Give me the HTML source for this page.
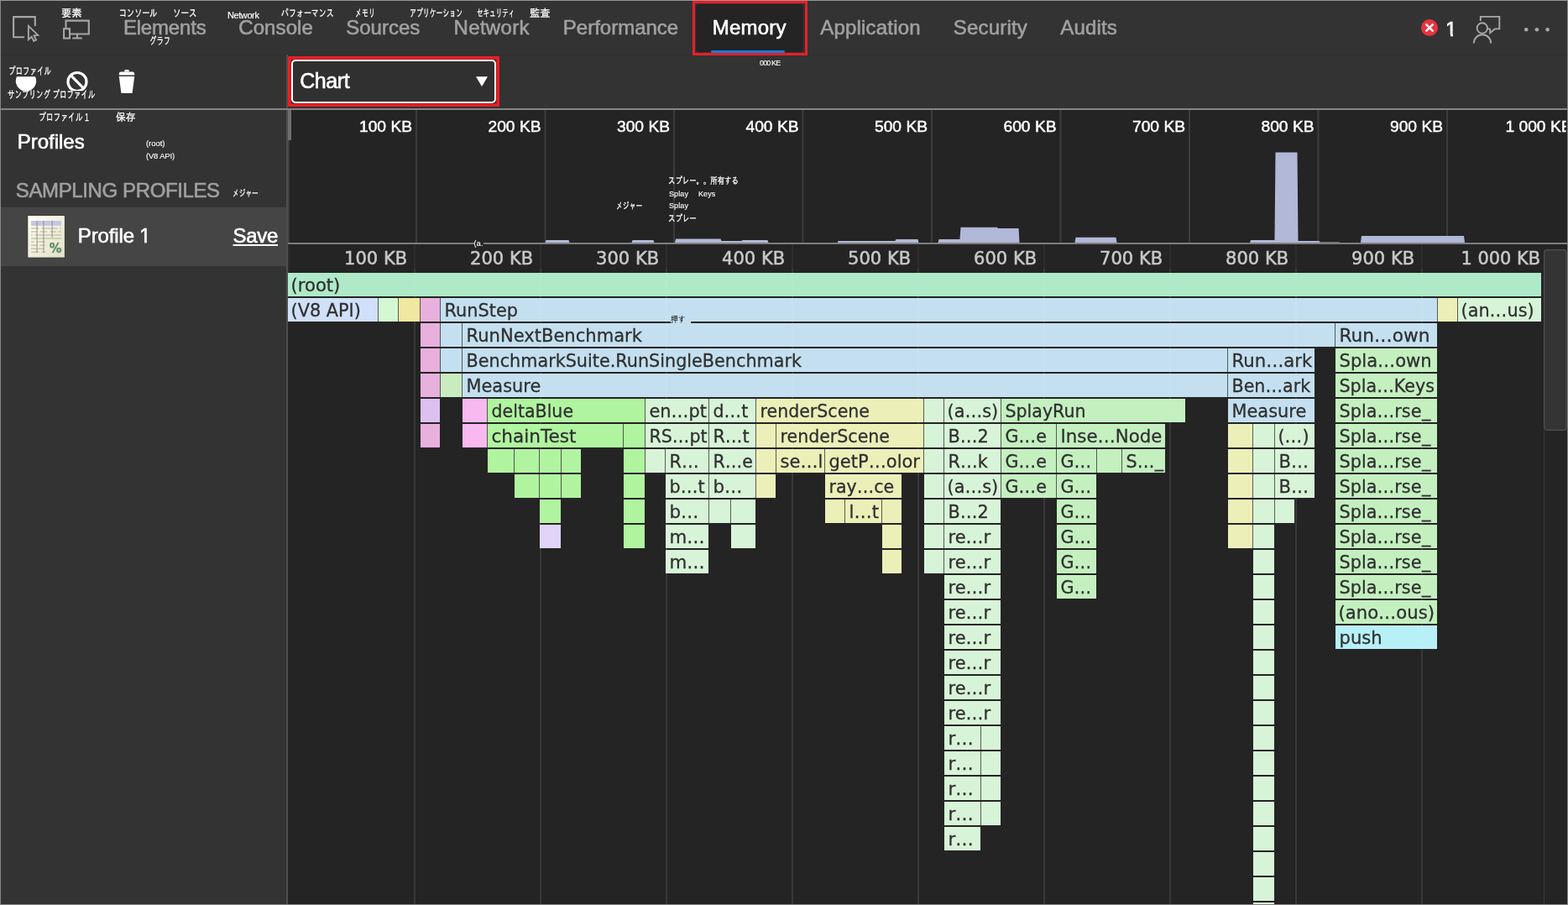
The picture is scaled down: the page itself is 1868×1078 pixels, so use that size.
<!DOCTYPE html>
<html lang="en">
<head>
<meta charset="utf-8">
<title>DevTools - Memory - Sampling profile chart</title>
<style>
*{box-sizing:border-box}
html,body{margin:0;padding:0;width:1868px;height:1078px;overflow:hidden;background:#333}
body{position:relative;font-family:"Liberation Sans","Noto Sans CJK JP",sans-serif;-webkit-font-smoothing:antialiased}
.abs,.t,svg{position:absolute}
nav,header,aside,main{display:block;position:static;margin:0;padding:0}
.t{white-space:pre;display:block;-webkit-text-stroke:.6px currentColor}
#tabs{left:1px;top:1px;width:1866px;height:64px;background:#333}
#tools{left:1px;top:65px;width:1866px;height:64px;background:#333}
#tabline{left:1px;top:65px;width:1866px;height:1px;background:#2f2f2f}
#hr{left:1px;top:129px;width:1866px;height:2px;background:#858585}
#side{left:1px;top:131px;width:340px;height:946px;background:#333}
#split{left:341px;top:65px;width:2px;height:1012px;background:#4e4e4e}
#chart{left:343px;top:131px;width:1524px;height:946px;background:#242424}
#frame{left:0;top:0;width:1868px;height:1078px;border:1px solid #868686;border-top-color:#969696;pointer-events:none}
#sel{left:1px;top:247px;width:340px;height:70px;background:#454545}
#memtab{left:829px;top:5px;width:128px;height:57px;background:#242424;border-radius:4px}
#memline{left:847px;top:60px;width:88px;height:3px;background:#0f7fe0;border-radius:2px}
.red{border:3px solid #ee1c25}
#red1{left:825px;top:1px;width:137px;height:65px}
#red2{left:343px;top:67px;width:252px;height:60px;border:0}
#select{left:347px;top:71px;width:244px;height:52px;border:2px solid #fff;border-radius:5px;background:#303030}
i.nf{display:block}
</style>
</head>
<body>
<div id="tabs" class="abs"></div>
<div id="tools" class="abs"></div>
<div id="tabline" class="abs"></div>
<div id="side" class="abs"></div>
<div id="chart" class="abs"></div>
<div id="split" class="abs"></div>
<div id="hr" class="abs"></div>
<nav aria-label="DevTools panels">
<div id="memtab" class="abs"></div><div id="memline" class="abs"></div>
<svg id="tabicons" width="1868" height="65" viewBox="0 0 1868 65" style="left:0;top:0" aria-hidden="true"><g fill="none" stroke="#a6a6a6" stroke-width="2.1" stroke-linejoin="miter"><path d="M29.1 44.2H16.1V20.1H41.8V31"/><path d="M33.9 30.9V47.1L37.6 43.7L40.2 48.9L43.1 47.5L40.5 42.4L45.3 41.9Z" stroke-width="1.9"/><path d="M78.5 33.2V24.6H105.8V40.5H84"/><rect x="76.1" y="34.2" width="6.9" height="11.4"/><path d="M92 41V45.5M86.2 45.5H97.8"/></g><circle cx="1703" cy="33" r="10" fill="#e8333f"/><path d="M1698.6 28.6L1707.4 37.4M1707.4 28.6L1698.6 37.4" stroke="#fff" stroke-width="2.4" fill="none"/><g fill="none" stroke="#a8a8a8" stroke-width="1.9"><path d="M1763.8 25V19.9H1786.3V34.4H1781L1775.2 39.2V34.4"/><path d="M1772 34.4H1775.2"/><circle cx="1765.8" cy="33.5" r="6.2"/><path d="M1755.8 51.4A10.2 10.2 0 0 1 1776.2 51.4"/></g><g fill="#a8a8a8"><circle cx="1818.2" cy="35.3" r="2.3"/><circle cx="1830.9" cy="35.3" r="2.3"/><circle cx="1843.6" cy="35.3" r="2.3"/></g></svg>
<span class="t" style="left:146.9px;top:20.7px;font-size:24px;line-height:24px;color:#a0a0a0;letter-spacing:-0.18px;">Elements</span>
<span class="t" style="left:284.2px;top:20.7px;font-size:24px;line-height:24px;color:#a0a0a0;letter-spacing:0.11px;">Console</span>
<span class="t" style="left:412.2px;top:20.7px;font-size:24px;line-height:24px;color:#a0a0a0;">Sources</span>
<span class="t" style="left:540.6px;top:20.7px;font-size:24px;line-height:24px;color:#a0a0a0;letter-spacing:0.31px;">Network</span>
<span class="t" style="left:670.8px;top:20.7px;font-size:24px;line-height:24px;color:#a0a0a0;">Performance</span>
<span class="t" style="left:848.7px;top:20.7px;font-size:24px;line-height:24px;color:#fff;letter-spacing:0.22px;">Memory</span>
<span class="t" style="left:977.3px;top:20.7px;font-size:24px;line-height:24px;color:#a0a0a0;letter-spacing:0.19px;">Application</span>
<span class="t" style="left:1135.8px;top:20.7px;font-size:24px;line-height:24px;color:#a0a0a0;letter-spacing:0.19px;">Security</span>
<span class="t" style="left:1263.3px;top:20.7px;font-size:24px;line-height:24px;color:#a0a0a0;letter-spacing:0.14px;">Audits</span>
<span class="t" style="left:1722.0px;top:22.7px;font-size:24px;line-height:24px;color:#fff;">1</span>
<span class="t" style="left:270.9px;top:13.0px;font-size:11px;line-height:11px;color:#fff;letter-spacing:-0.39px;-webkit-text-stroke:.15px;">Network</span>
<span class="t" style="left:72.8px;top:9.9px;font-size:12.5px;line-height:12.5px;color:#fff;font-family:'Liberation Sans','IPAGothic','Noto Sans CJK JP',sans-serif;transform:scaleX(0.976);transform-origin:0 0;-webkit-text-stroke:.25px;">要素</span>
<span class="t" style="left:141.7px;top:9.9px;font-size:12.5px;line-height:12.5px;color:#fff;font-family:'Liberation Sans','IPAGothic','Noto Sans CJK JP',sans-serif;transform:scaleX(0.725);transform-origin:0 0;-webkit-text-stroke:.25px;">コンソール</span>
<span class="t" style="left:205.7px;top:9.9px;font-size:12.5px;line-height:12.5px;color:#fff;font-family:'Liberation Sans','IPAGothic','Noto Sans CJK JP',sans-serif;transform:scaleX(0.763);transform-origin:0 0;-webkit-text-stroke:.25px;">ソース</span>
<span class="t" style="left:177.8px;top:42.5px;font-size:12.5px;line-height:12.5px;color:#fff;font-family:'Liberation Sans','IPAGothic','Noto Sans CJK JP',sans-serif;transform:scaleX(0.672);transform-origin:0 0;-webkit-text-stroke:.25px;">グラフ</span>
<span class="t" style="left:334.6px;top:9.9px;font-size:12.5px;line-height:12.5px;color:#fff;font-family:'Liberation Sans','IPAGothic','Noto Sans CJK JP',sans-serif;transform:scaleX(0.717);transform-origin:0 0;-webkit-text-stroke:.25px;">パフォーマンス</span>
<span class="t" style="left:423.0px;top:9.9px;font-size:12.5px;line-height:12.5px;color:#fff;font-family:'Liberation Sans','IPAGothic','Noto Sans CJK JP',sans-serif;transform:scaleX(0.635);transform-origin:0 0;-webkit-text-stroke:.25px;">メモリ</span>
<span class="t" style="left:488.0px;top:9.9px;font-size:12.5px;line-height:12.5px;color:#fff;font-family:'Liberation Sans','IPAGothic','Noto Sans CJK JP',sans-serif;transform:scaleX(0.631);transform-origin:0 0;-webkit-text-stroke:.25px;">アプリケーション</span>
<span class="t" style="left:567.8px;top:9.9px;font-size:12.5px;line-height:12.5px;color:#fff;font-family:'Liberation Sans','IPAGothic','Noto Sans CJK JP',sans-serif;transform:scaleX(0.604);transform-origin:0 0;-webkit-text-stroke:.25px;">セキュリティ</span>
<span class="t" style="left:630.7px;top:9.9px;font-size:12.5px;line-height:12.5px;color:#fff;font-family:'Liberation Sans','IPAGothic','Noto Sans CJK JP',sans-serif;transform:scaleX(0.980);transform-origin:0 0;-webkit-text-stroke:.25px;">監査</span>
<i class="abs nf" style="left:1722px;top:40.7px;width:5.6px;height:3.6px;background:#333"></i><i class="abs nf" style="left:1731.4px;top:40.7px;width:5px;height:3.6px;background:#333"></i>
<div id="red1" class="abs red"></div>
</nav>
<header aria-label="Profile toolbar">
<div id="select" class="abs"></div>
<svg id="toolicons" width="700" height="64" viewBox="0 65 700 64" style="left:0;top:65px" aria-hidden="true"><path d="M19.96 91.3H42.04A12.2 12.2 0 1 1 19.96 91.3Z" fill="#fff"/><g fill="none" stroke="#fff" stroke-width="3.2"><circle cx="92" cy="97.5" r="11"/><path d="M84.2 89.7L99.8 105.3"/></g><rect x="10" y="108.3" width="105" height="11" fill="#333"/><g fill="#fff"><path d="M148.3 85.6V84.2Q148.3 83 149.5 83H152.5Q153.7 83 153.7 84.2V85.6Z"/><path d="M141.8 89.6V88Q141.8 85.4 144.4 85.4H157.6Q160.2 85.4 160.2 88V89.6Z"/><path d="M141.8 91.1H160.2L157.7 110.2Q157.6 111.1 156.7 111.1H145.3Q144.4 111.1 144.3 110.2Z"/></g><path d="M567 91.3H581L574 103Z" fill="#fff"/></svg>
<span class="t" style="left:357.2px;top:83.8px;font-size:25px;line-height:25px;color:#fff;letter-spacing:-0.41px;">Chart</span>
<span class="t" style="left:905.0px;top:70.6px;font-size:9px;line-height:9px;color:#fff;letter-spacing:-0.87px;-webkit-text-stroke:.1px;">000 KE</span>
<span class="t" style="left:9.9px;top:78.7px;font-size:12.5px;line-height:12.5px;color:#fff;font-family:'Liberation Sans','IPAGothic','Noto Sans CJK JP',sans-serif;transform:scaleX(0.681);transform-origin:0 0;-webkit-text-stroke:.25px;">プロファイル</span>
<span class="t" style="left:9.4px;top:107.2px;font-size:12.5px;line-height:12.5px;color:#fff;font-family:'Liberation Sans','IPAGothic','Noto Sans CJK JP',sans-serif;transform:scaleX(0.681);transform-origin:0 0;-webkit-text-stroke:.25px;">サンプリング プロファイル</span>
<svg id="red2" class="abs" width="252" height="60" viewBox="343 67 252 60" aria-hidden="true"><rect x="344.8" y="68.8" width="248.4" height="56.4" fill="none" stroke="#ee1c25" stroke-width="3.6"/></svg>
</header>
<aside aria-label="Profiles">
<div id="sel" class="abs"></div>
<svg id="picon" width="48" height="54" viewBox="31 255 48 54" style="left:31px;top:255px"><defs><linearGradient id="pg" x1="0" y1="0" x2="1" y2="1"><stop offset="0" stop-color="#fffff0"/><stop offset="1" stop-color="#e2e0c8"/></linearGradient></defs><rect x="32.7" y="256.4" width="44.8" height="50.8" fill="#2a2818" fill-opacity=".45"/><rect x="33.3" y="257" width="43.6" height="49.6" fill="url(#pg)"/><rect x="37" y="263" width="36" height="5.8" fill="#c3c6e6"/><path d="M37 271.95H46.4M49.6 271.95H68.7M71.1 271.95H72.9M37 275.95H44.7M47.5 275.95H56.2M59.3 275.95H66.6M69 275.95H72.9M37 279.95H38.8M41.6 279.95H72.9M37 283.95H72.9M37 288.05H40.9M44 288.05H54.1M37 292.15H44.7M47.5 292.15H54.1M37 296.15H52.7M37 300.15H46.4M49.6 300.15H54.1" stroke="#c4c1a8" stroke-opacity=".9" stroke-width="1.5" fill="none"/><rect x="43.3" y="263" width="1.5" height="38" fill="#8e8c86" fill-opacity=".6"/><rect x="51.1" y="263" width="1.5" height="38" fill="#8e8c86" fill-opacity=".6"/><rect x="61.4" y="263" width="1.5" height="20" fill="#8e8c86" fill-opacity=".6"/><text x="58.8" y="301.2" font-family="'DejaVu Sans','Liberation Sans',sans-serif" font-weight="bold" font-size="16.5" fill="#5f8f68" stroke="#5f8f68" stroke-width=".5" stroke-opacity=".8" textLength="14.8" lengthAdjust="spacingAndGlyphs">%</text></svg>
<span class="t" style="left:20.8px;top:156.9px;font-size:24px;line-height:24px;color:#fff;letter-spacing:-0.02px;">Profiles</span>
<span class="t" style="left:18.8px;top:215.0px;font-size:24px;line-height:24px;color:#a0a0a0;letter-spacing:-0.38px;">SAMPLING PROFILES</span>
<span class="t" style="left:92.8px;top:268.7px;font-size:24px;line-height:24px;color:#fff;letter-spacing:-0.14px;">Profile 1</span>
<span class="t" style="left:277.5px;top:268.7px;font-size:24px;line-height:24px;color:#fff;letter-spacing:-0.30px;text-decoration:underline;text-decoration-thickness:2px;text-underline-offset:2px;">Save</span>
<span class="t" style="left:173.9px;top:166.0px;font-size:9.5px;line-height:9.5px;color:#fff;letter-spacing:-0.03px;-webkit-text-stroke:.1px;">(root)</span>
<span class="t" style="left:173.9px;top:181.0px;font-size:9.5px;line-height:9.5px;color:#fff;letter-spacing:-0.16px;-webkit-text-stroke:.1px;">(V8 API)</span>
<span class="t" style="left:45.6px;top:134.3px;font-size:12.5px;line-height:12.5px;color:#fff;font-family:'Liberation Sans','IPAGothic','Noto Sans CJK JP',sans-serif;transform:scaleX(0.702);transform-origin:0 0;-webkit-text-stroke:.25px;">プロファイル 1</span>
<span class="t" style="left:138.2px;top:134.3px;font-size:12.5px;line-height:12.5px;color:#fff;font-family:'Liberation Sans','IPAGothic','Noto Sans CJK JP',sans-serif;transform:scaleX(0.948);transform-origin:0 0;-webkit-text-stroke:.25px;">保存</span>
<span class="t" style="left:277.2px;top:224.8px;font-size:11px;line-height:11px;color:#fff;font-family:'Liberation Sans','IPAGothic','Noto Sans CJK JP',sans-serif;transform:scaleX(0.700);transform-origin:0 0;-webkit-text-stroke:.25px;">メジャー</span>
<i class="abs nf" style="left:166px;top:286.6px;width:5.8px;height:3.6px;background:#454545"></i><i class="abs nf" style="left:175px;top:286.6px;width:4.6px;height:3.6px;background:#454545"></i>
</aside>
<main aria-label="Allocation sampling flame chart">
<svg id="cv" width="1524" height="946" viewBox="343 131 1524 946" style="left:343px;top:131px" shape-rendering="crispEdges"><rect x="343" y="131" width="4" height="36" fill="#6e6e6e"/><rect x="343" y="167" width="2" height="122" fill="#3e3e3e"/><rect x="343" y="291" width="2" height="33" fill="#2d2d2d"/><rect x="495.0" y="131" width="2" height="158" fill="#fff" fill-opacity=".11" shape-rendering="geometricPrecision"/><rect x="648.5" y="131" width="2" height="158" fill="#fff" fill-opacity=".11" shape-rendering="geometricPrecision"/><rect x="802.0" y="131" width="2" height="158" fill="#fff" fill-opacity=".11" shape-rendering="geometricPrecision"/><rect x="955.5" y="131" width="2" height="158" fill="#fff" fill-opacity=".11" shape-rendering="geometricPrecision"/><rect x="1109.0" y="131" width="2" height="158" fill="#fff" fill-opacity=".11" shape-rendering="geometricPrecision"/><rect x="1262.5" y="131" width="2" height="158" fill="#fff" fill-opacity=".11" shape-rendering="geometricPrecision"/><rect x="1416.0" y="131" width="2" height="158" fill="#fff" fill-opacity=".11" shape-rendering="geometricPrecision"/><rect x="1569.5" y="131" width="2" height="158" fill="#fff" fill-opacity=".11" shape-rendering="geometricPrecision"/><rect x="1723.0" y="131" width="2" height="158" fill="#fff" fill-opacity=".11" shape-rendering="geometricPrecision"/><g fill="#b1b8d8" shape-rendering="geometricPrecision"><path d="M649.4 289.5L650.5 286L677.5 286L678.6 289.5Z"/><path d="M752.4 289.5L753.5 286L778.5 286L779.6 289.5Z"/><path d="M803.9 289.5L805.0 284.5L858.5 284.5L859.5 287L883.5 287L884.5 286L914.5 286L915.6 289.5Z"/><path d="M997.4 289.5L998.5 287L1066.5 287L1067.5 285L1093.5 285L1094.6 289.5Z"/><path d="M1117.4 289.5L1118.5 285L1143.5 285L1144.5 270.7L1188.0 270.7L1189.0 272L1213.5 272L1214.6 289.5Z"/><path d="M1280.4 289.5L1281.5 282.7L1329.5 282.7L1330.6 289.5Z"/><path d="M1488.9 289.5L1490.0 286L1518.5 286L1519.5 181.5L1545.5 181.5L1546.5 287L1571.5 287L1572.5 288.6L1595.5 288.6L1596.6 289.5Z"/><path d="M1620.9 289.5L1622.0 281L1744.0 281L1745.1 289.5Z"/></g><rect x="343" y="289" width="1524" height="2" fill="#7e7e7e"/><clipPath id="ovc"><rect x="343" y="131" width="1522.6" height="158"/></clipPath><g clip-path="url(#ovc)" font-family="'Liberation Sans','Noto Sans CJK JP',sans-serif" font-size="18" fill="#fff" stroke="#fff" stroke-width=".45" text-anchor="end" shape-rendering="geometricPrecision"><text x="491.0" y="156.6" textLength="63.0" lengthAdjust="spacingAndGlyphs">100 KB</text><text x="644.5" y="156.6" textLength="63.0" lengthAdjust="spacingAndGlyphs">200 KB</text><text x="798.0" y="156.6" textLength="63.0" lengthAdjust="spacingAndGlyphs">300 KB</text><text x="951.5" y="156.6" textLength="63.0" lengthAdjust="spacingAndGlyphs">400 KB</text><text x="1105.0" y="156.6" textLength="63.0" lengthAdjust="spacingAndGlyphs">500 KB</text><text x="1258.5" y="156.6" textLength="63.0" lengthAdjust="spacingAndGlyphs">600 KB</text><text x="1412.0" y="156.6" textLength="63.0" lengthAdjust="spacingAndGlyphs">700 KB</text><text x="1565.5" y="156.6" textLength="63.0" lengthAdjust="spacingAndGlyphs">800 KB</text><text x="1719.0" y="156.6" textLength="63.0" lengthAdjust="spacingAndGlyphs">900 KB</text><text x="1872.5" y="156.6" textLength="79.0" lengthAdjust="spacingAndGlyphs">1 000 KB</text></g><g font-family="'DejaVu Sans','Liberation Sans',sans-serif" font-size="22" fill="#c8c8c8" stroke="#c8c8c8" stroke-width=".55" text-anchor="end"><text x="485.1" y="315.2" textLength="75.0" lengthAdjust="spacingAndGlyphs">100 KB</text><text x="635.1" y="315.2" textLength="75.0" lengthAdjust="spacingAndGlyphs">200 KB</text><text x="785.1" y="315.2" textLength="75.0" lengthAdjust="spacingAndGlyphs">300 KB</text><text x="935.1" y="315.2" textLength="75.0" lengthAdjust="spacingAndGlyphs">400 KB</text><text x="1085.1" y="315.2" textLength="75.0" lengthAdjust="spacingAndGlyphs">500 KB</text><text x="1235.1" y="315.2" textLength="75.0" lengthAdjust="spacingAndGlyphs">600 KB</text><text x="1385.1" y="315.2" textLength="75.0" lengthAdjust="spacingAndGlyphs">700 KB</text><text x="1535.1" y="315.2" textLength="75.0" lengthAdjust="spacingAndGlyphs">800 KB</text><text x="1685.1" y="315.2" textLength="75.0" lengthAdjust="spacingAndGlyphs">900 KB</text><text x="1835.1" y="315.2" textLength="94.5" lengthAdjust="spacingAndGlyphs">1 000 KB</text></g><rect x="493" y="320" width="2" height="757" fill="#fff" fill-opacity=".06"/><rect x="643" y="320" width="2" height="757" fill="#fff" fill-opacity=".06"/><rect x="793" y="320" width="2" height="757" fill="#fff" fill-opacity=".06"/><rect x="943" y="320" width="2" height="757" fill="#fff" fill-opacity=".06"/><rect x="1093" y="320" width="2" height="757" fill="#fff" fill-opacity=".06"/><rect x="1243" y="320" width="2" height="757" fill="#fff" fill-opacity=".06"/><rect x="1393" y="320" width="2" height="757" fill="#fff" fill-opacity=".06"/><rect x="1543" y="320" width="2" height="757" fill="#fff" fill-opacity=".06"/><rect x="1693" y="320" width="2" height="757" fill="#fff" fill-opacity=".06"/><rect x="343" y="325" width="1493" height="28" fill="#aeeac8"/><rect x="343" y="355" width="107" height="28" fill="#d0e0f8"/><rect x="450" y="355" width="1" height="28" fill="#555c5a"/><rect x="451" y="355" width="23" height="28" fill="#d4f8d4"/><rect x="474" y="355" width="1" height="28" fill="#595d4e"/><rect x="475" y="355" width="25" height="28" fill="#f0e8a0"/><rect x="500" y="355" width="1" height="28" fill="#5c534f"/><rect x="501" y="355" width="23" height="28" fill="#e8b0dc"/><rect x="524" y="355" width="1" height="28" fill="#56525a"/><rect x="525" y="355" width="1187" height="28" fill="#c4e0f0"/><rect x="1712" y="355" width="1" height="28" fill="#565b55"/><rect x="1713" y="355" width="23" height="28" fill="#ecf0b8"/><rect x="1736" y="355" width="1" height="28" fill="#595e52"/><rect x="1737" y="355" width="99" height="28" fill="#d8f4d8"/><rect x="501" y="385" width="23" height="28" fill="#e8b0dc"/><rect x="524" y="385" width="1" height="28" fill="#56525a"/><rect x="525" y="385" width="25" height="28" fill="#c4e0f0"/><rect x="550" y="385" width="1" height="28" fill="#51595d"/><rect x="551" y="385" width="1039" height="28" fill="#c4e0f0"/><rect x="1590" y="385" width="1" height="28" fill="#51595d"/><rect x="1591" y="385" width="121" height="28" fill="#c4e0f0"/><rect x="501" y="415" width="23" height="28" fill="#e8b0dc"/><rect x="524" y="415" width="1" height="28" fill="#56525a"/><rect x="525" y="415" width="25" height="28" fill="#c4e0f0"/><rect x="550" y="415" width="1" height="28" fill="#51595d"/><rect x="551" y="415" width="911" height="28" fill="#c4e0f0"/><rect x="1462" y="415" width="1" height="28" fill="#51595d"/><rect x="1463" y="415" width="103" height="28" fill="#c4e0f0"/><rect x="1591" y="415" width="121" height="28" fill="#c4f0c0"/><rect x="501" y="445" width="23" height="28" fill="#e8b0dc"/><rect x="524" y="445" width="1" height="28" fill="#565454"/><rect x="525" y="445" width="25" height="28" fill="#c8ecc0"/><rect x="550" y="445" width="1" height="28" fill="#515a56"/><rect x="551" y="445" width="911" height="28" fill="#c4e0f0"/><rect x="1462" y="445" width="1" height="28" fill="#51595d"/><rect x="1463" y="445" width="103" height="28" fill="#c4e0f0"/><rect x="1591" y="445" width="121" height="28" fill="#c4f0c0"/><rect x="501" y="475" width="23" height="28" fill="#dcc0f0"/><rect x="551" y="475" width="29" height="28" fill="#f8b8f0"/><rect x="580" y="475" width="1" height="28" fill="#555652"/><rect x="581" y="475" width="187" height="28" fill="#b0f4a0"/><rect x="768" y="475" width="1" height="28" fill="#515e4f"/><rect x="769" y="475" width="75" height="28" fill="#d8f4d8"/><rect x="844" y="475" width="1" height="28" fill="#565e56"/><rect x="845" y="475" width="55" height="28" fill="#d8f4d8"/><rect x="900" y="475" width="1" height="28" fill="#595e52"/><rect x="901" y="475" width="199" height="28" fill="#ecf0b8"/><rect x="1100" y="475" width="1" height="28" fill="#595e52"/><rect x="1101" y="475" width="23" height="28" fill="#d8f4d8"/><rect x="1124" y="475" width="1" height="28" fill="#565e56"/><rect x="1125" y="475" width="67" height="28" fill="#d8f4d8"/><rect x="1192" y="475" width="1" height="28" fill="#545e53"/><rect x="1193" y="475" width="219" height="28" fill="#c4f0c0"/><rect x="1463" y="475" width="103" height="28" fill="#c4e0f0"/><rect x="1591" y="475" width="121" height="28" fill="#c4f0c0"/><rect x="501" y="505" width="23" height="28" fill="#e8b0dc"/><rect x="551" y="505" width="29" height="28" fill="#f8b8f0"/><rect x="580" y="505" width="1" height="28" fill="#555652"/><rect x="581" y="505" width="161" height="28" fill="#b0f4a0"/><rect x="742" y="505" width="1" height="28" fill="#4b5e47"/><rect x="743" y="505" width="25" height="28" fill="#b0f4a0"/><rect x="768" y="505" width="1" height="28" fill="#515e4f"/><rect x="769" y="505" width="75" height="28" fill="#d8f4d8"/><rect x="844" y="505" width="1" height="28" fill="#565e56"/><rect x="845" y="505" width="55" height="28" fill="#d8f4d8"/><rect x="900" y="505" width="1" height="28" fill="#595e52"/><rect x="901" y="505" width="23" height="28" fill="#ecf0b8"/><rect x="924" y="505" width="1" height="28" fill="#5c5d4d"/><rect x="925" y="505" width="175" height="28" fill="#ecf0b8"/><rect x="1100" y="505" width="1" height="28" fill="#595e52"/><rect x="1101" y="505" width="23" height="28" fill="#d8f4d8"/><rect x="1124" y="505" width="1" height="28" fill="#565e56"/><rect x="1125" y="505" width="67" height="28" fill="#d8f4d8"/><rect x="1192" y="505" width="1" height="28" fill="#545e53"/><rect x="1193" y="505" width="65" height="28" fill="#c4f0c0"/><rect x="1258" y="505" width="1" height="28" fill="#515d50"/><rect x="1259" y="505" width="129" height="28" fill="#c4f0c0"/><rect x="1463" y="505" width="29" height="28" fill="#ecf0b8"/><rect x="1492" y="505" width="1" height="28" fill="#595e52"/><rect x="1493" y="505" width="25" height="28" fill="#d8f4d8"/><rect x="1518" y="505" width="1" height="28" fill="#565e56"/><rect x="1519" y="505" width="47" height="28" fill="#d8f4d8"/><rect x="1591" y="505" width="121" height="28" fill="#c4f0c0"/><rect x="581" y="535" width="31" height="28" fill="#b0f4a0"/><rect x="612" y="535" width="1" height="28" fill="#4b5e47"/><rect x="613" y="535" width="29" height="28" fill="#b0f4a0"/><rect x="642" y="535" width="1" height="28" fill="#4b5e47"/><rect x="643" y="535" width="25" height="28" fill="#b0f4a0"/><rect x="668" y="535" width="1" height="28" fill="#4b5e47"/><rect x="669" y="535" width="23" height="28" fill="#b0f4a0"/><rect x="743" y="535" width="25" height="28" fill="#b0f4a0"/><rect x="768" y="535" width="1" height="28" fill="#515e4f"/><rect x="769" y="535" width="23" height="28" fill="#d8f4d8"/><rect x="792" y="535" width="1" height="28" fill="#565e56"/><rect x="793" y="535" width="51" height="28" fill="#d8f4d8"/><rect x="844" y="535" width="1" height="28" fill="#565e56"/><rect x="845" y="535" width="55" height="28" fill="#d8f4d8"/><rect x="900" y="535" width="1" height="28" fill="#595e52"/><rect x="901" y="535" width="23" height="28" fill="#ecf0b8"/><rect x="924" y="535" width="1" height="28" fill="#5c5d4d"/><rect x="925" y="535" width="57" height="28" fill="#ecf0b8"/><rect x="982" y="535" width="1" height="28" fill="#5c5d4d"/><rect x="983" y="535" width="117" height="28" fill="#ecf0b8"/><rect x="1100" y="535" width="1" height="28" fill="#595e52"/><rect x="1101" y="535" width="23" height="28" fill="#d8f4d8"/><rect x="1124" y="535" width="1" height="28" fill="#565e56"/><rect x="1125" y="535" width="67" height="28" fill="#d8f4d8"/><rect x="1192" y="535" width="1" height="28" fill="#545e53"/><rect x="1193" y="535" width="65" height="28" fill="#c4f0c0"/><rect x="1258" y="535" width="1" height="28" fill="#515d50"/><rect x="1259" y="535" width="47" height="28" fill="#c4f0c0"/><rect x="1306" y="535" width="1" height="28" fill="#515d50"/><rect x="1307" y="535" width="29" height="28" fill="#c4f0c0"/><rect x="1336" y="535" width="1" height="28" fill="#515d50"/><rect x="1337" y="535" width="51" height="28" fill="#c4f0c0"/><rect x="1463" y="535" width="29" height="28" fill="#ecf0b8"/><rect x="1492" y="535" width="1" height="28" fill="#595e52"/><rect x="1493" y="535" width="25" height="28" fill="#d8f4d8"/><rect x="1518" y="535" width="1" height="28" fill="#565e56"/><rect x="1519" y="535" width="47" height="28" fill="#d8f4d8"/><rect x="1591" y="535" width="121" height="28" fill="#c4f0c0"/><rect x="613" y="565" width="29" height="28" fill="#b0f4a0"/><rect x="642" y="565" width="1" height="28" fill="#4b5e47"/><rect x="643" y="565" width="25" height="28" fill="#b0f4a0"/><rect x="668" y="565" width="1" height="28" fill="#4b5e47"/><rect x="669" y="565" width="23" height="28" fill="#b0f4a0"/><rect x="743" y="565" width="25" height="28" fill="#b0f4a0"/><rect x="793" y="565" width="51" height="28" fill="#d8f4d8"/><rect x="844" y="565" width="1" height="28" fill="#565e56"/><rect x="845" y="565" width="55" height="28" fill="#d8f4d8"/><rect x="900" y="565" width="1" height="28" fill="#595e52"/><rect x="901" y="565" width="23" height="28" fill="#ecf0b8"/><rect x="983" y="565" width="91" height="28" fill="#ecf0b8"/><rect x="1101" y="565" width="23" height="28" fill="#d8f4d8"/><rect x="1124" y="565" width="1" height="28" fill="#565e56"/><rect x="1125" y="565" width="67" height="28" fill="#d8f4d8"/><rect x="1192" y="565" width="1" height="28" fill="#545e53"/><rect x="1193" y="565" width="65" height="28" fill="#c4f0c0"/><rect x="1258" y="565" width="1" height="28" fill="#515d50"/><rect x="1259" y="565" width="47" height="28" fill="#c4f0c0"/><rect x="1463" y="565" width="29" height="28" fill="#ecf0b8"/><rect x="1492" y="565" width="1" height="28" fill="#595e52"/><rect x="1493" y="565" width="25" height="28" fill="#d8f4d8"/><rect x="1518" y="565" width="1" height="28" fill="#565e56"/><rect x="1519" y="565" width="47" height="28" fill="#d8f4d8"/><rect x="1591" y="565" width="121" height="28" fill="#c4f0c0"/><rect x="643" y="595" width="25" height="28" fill="#b0f4a0"/><rect x="743" y="595" width="25" height="28" fill="#b0f4a0"/><rect x="793" y="595" width="51" height="28" fill="#d8f4d8"/><rect x="844" y="595" width="1" height="28" fill="#565e56"/><rect x="845" y="595" width="25" height="28" fill="#d8f4d8"/><rect x="870" y="595" width="1" height="28" fill="#565e56"/><rect x="871" y="595" width="29" height="28" fill="#d8f4d8"/><rect x="983" y="595" width="23" height="28" fill="#ecf0b8"/><rect x="1006" y="595" width="1" height="28" fill="#5c5d4d"/><rect x="1007" y="595" width="43" height="28" fill="#ecf0b8"/><rect x="1050" y="595" width="1" height="28" fill="#5c5d4d"/><rect x="1051" y="595" width="23" height="28" fill="#ecf0b8"/><rect x="1101" y="595" width="23" height="28" fill="#d8f4d8"/><rect x="1124" y="595" width="1" height="28" fill="#565e56"/><rect x="1125" y="595" width="67" height="28" fill="#d8f4d8"/><rect x="1259" y="595" width="47" height="28" fill="#c4f0c0"/><rect x="1463" y="595" width="29" height="28" fill="#ecf0b8"/><rect x="1492" y="595" width="1" height="28" fill="#595e52"/><rect x="1493" y="595" width="25" height="28" fill="#d8f4d8"/><rect x="1518" y="595" width="1" height="28" fill="#565e56"/><rect x="1519" y="595" width="23" height="28" fill="#d8f4d8"/><rect x="1591" y="595" width="121" height="28" fill="#c4f0c0"/><rect x="643" y="625" width="25" height="28" fill="#e0d4f8"/><rect x="743" y="625" width="25" height="28" fill="#b0f4a0"/><rect x="793" y="625" width="51" height="28" fill="#d8f4d8"/><rect x="871" y="625" width="29" height="28" fill="#d8f4d8"/><rect x="1051" y="625" width="23" height="28" fill="#ecf0b8"/><rect x="1101" y="625" width="23" height="28" fill="#d8f4d8"/><rect x="1124" y="625" width="1" height="28" fill="#565e56"/><rect x="1125" y="625" width="67" height="28" fill="#d8f4d8"/><rect x="1259" y="625" width="47" height="28" fill="#c4f0c0"/><rect x="1463" y="625" width="29" height="28" fill="#ecf0b8"/><rect x="1492" y="625" width="1" height="28" fill="#595e52"/><rect x="1493" y="625" width="25" height="28" fill="#d8f4d8"/><rect x="1591" y="625" width="121" height="28" fill="#c4f0c0"/><rect x="793" y="655" width="51" height="28" fill="#d8f4d8"/><rect x="1051" y="655" width="23" height="28" fill="#ecf0b8"/><rect x="1101" y="655" width="23" height="28" fill="#d8f4d8"/><rect x="1124" y="655" width="1" height="28" fill="#565e56"/><rect x="1125" y="655" width="67" height="28" fill="#d8f4d8"/><rect x="1259" y="655" width="47" height="28" fill="#c4f0c0"/><rect x="1493" y="655" width="25" height="28" fill="#d8f4d8"/><rect x="1591" y="655" width="121" height="28" fill="#c4f0c0"/><rect x="1125" y="685" width="67" height="28" fill="#d8f4d8"/><rect x="1259" y="685" width="47" height="28" fill="#c4f0c0"/><rect x="1493" y="685" width="25" height="28" fill="#d8f4d8"/><rect x="1591" y="685" width="121" height="28" fill="#c4f0c0"/><rect x="1125" y="715" width="67" height="28" fill="#d8f4d8"/><rect x="1493" y="715" width="25" height="28" fill="#d8f4d8"/><rect x="1591" y="715" width="121" height="28" fill="#c4f0c0"/><rect x="1125" y="745" width="67" height="28" fill="#d8f4d8"/><rect x="1493" y="745" width="25" height="28" fill="#d8f4d8"/><rect x="1591" y="745" width="121" height="28" fill="#b8f0f8"/><rect x="1125" y="775" width="67" height="28" fill="#d8f4d8"/><rect x="1493" y="775" width="25" height="28" fill="#d8f4d8"/><rect x="1125" y="805" width="67" height="28" fill="#d8f4d8"/><rect x="1493" y="805" width="25" height="28" fill="#d8f4d8"/><rect x="1125" y="835" width="67" height="28" fill="#d8f4d8"/><rect x="1493" y="835" width="25" height="28" fill="#d8f4d8"/><rect x="1125" y="865" width="43" height="28" fill="#d8f4d8"/><rect x="1168" y="865" width="1" height="28" fill="#565e56"/><rect x="1169" y="865" width="23" height="28" fill="#d8f4d8"/><rect x="1493" y="865" width="25" height="28" fill="#d8f4d8"/><rect x="1125" y="895" width="43" height="28" fill="#d8f4d8"/><rect x="1168" y="895" width="1" height="28" fill="#565e56"/><rect x="1169" y="895" width="23" height="28" fill="#d8f4d8"/><rect x="1493" y="895" width="25" height="28" fill="#d8f4d8"/><rect x="1125" y="925" width="43" height="28" fill="#d8f4d8"/><rect x="1168" y="925" width="1" height="28" fill="#565e56"/><rect x="1169" y="925" width="23" height="28" fill="#d8f4d8"/><rect x="1493" y="925" width="25" height="28" fill="#d8f4d8"/><rect x="1125" y="955" width="43" height="28" fill="#d8f4d8"/><rect x="1168" y="955" width="1" height="28" fill="#565e56"/><rect x="1169" y="955" width="23" height="28" fill="#d8f4d8"/><rect x="1493" y="955" width="25" height="28" fill="#d8f4d8"/><rect x="1125" y="985" width="43" height="28" fill="#d8f4d8"/><rect x="1493" y="985" width="25" height="28" fill="#d8f4d8"/><rect x="1493" y="1015" width="25" height="28" fill="#d8f4d8"/><rect x="1493" y="1045" width="25" height="28" fill="#d8f4d8"/><rect x="1493" y="1075" width="25" height="2" fill="#d8f4d8"/><rect x="493" y="291" width="2" height="786" fill="#fff" fill-opacity=".045"/><rect x="643" y="291" width="2" height="786" fill="#fff" fill-opacity=".045"/><rect x="793" y="291" width="2" height="786" fill="#fff" fill-opacity=".045"/><rect x="943" y="291" width="2" height="786" fill="#fff" fill-opacity=".045"/><rect x="1093" y="291" width="2" height="786" fill="#fff" fill-opacity=".045"/><rect x="1243" y="291" width="2" height="786" fill="#fff" fill-opacity=".045"/><rect x="1393" y="291" width="2" height="786" fill="#fff" fill-opacity=".045"/><rect x="1543" y="291" width="2" height="786" fill="#fff" fill-opacity=".045"/><rect x="1693" y="291" width="2" height="786" fill="#fff" fill-opacity=".045"/><rect x="1839" y="513" width="1" height="564" fill="#3b3b3b"/><g font-family="'DejaVu Sans','Liberation Sans',sans-serif" font-size="22" fill="#303030" stroke="#303030" stroke-width=".3"><text transform="translate(346.5 346.5) scale(0.961 1)">(root)</text><text transform="translate(346.5 376.5) scale(0.948 1)">(V8 API)</text><text transform="translate(529.5 376.5) scale(0.949 1)">RunStep</text><text transform="translate(1740.5 376.5) scale(0.948 1)">(an…us)</text><text transform="translate(555.5 406.5) scale(0.958 1)">RunNextBenchmark</text><text transform="translate(1595.5 406.5) scale(0.985 1)">Run…own</text><text transform="translate(555.5 436.5) scale(0.944 1)">BenchmarkSuite.RunSingleBenchmark</text><text transform="translate(1467.5 436.5) scale(0.964 1)">Run…ark</text><text transform="translate(1595.5 436.5) scale(0.96 1)">Spla…own</text><text transform="translate(555.5 466.5) scale(0.95 1)">Measure</text><text transform="translate(1467.5 466.5) scale(0.939 1)">Ben…ark</text><text transform="translate(1595.5 466.5) scale(0.94 1)">Spla…Keys</text><text transform="translate(585.5 496.5) scale(0.935 1)">deltaBlue</text><text transform="translate(773.5 496.5) scale(0.951 1)">en…pt</text><text transform="translate(849.5 496.5) scale(0.937 1)">d…t</text><text transform="translate(905.5 496.5) scale(0.935 1)">renderScene</text><text transform="translate(1128.5 496.5) scale(0.948 1)">(a…s)</text><text transform="translate(1197.5 496.5) scale(0.935 1)">SplayRun</text><text transform="translate(1467.5 496.5) scale(0.95 1)">Measure</text><text transform="translate(1595.5 496.5) scale(0.946 1)">Spla…rse<tspan dy="-0.9" dx="0.5">_</tspan></text><text transform="translate(585.5 526.5) scale(0.981 1)">chainTest</text><text transform="translate(773.5 526.5) scale(0.935 1)">RS…pt</text><text transform="translate(849.5 526.5) scale(0.94 1)">R…t</text><text transform="translate(929.5 526.5) scale(0.935 1)">renderScene</text><text transform="translate(1129.5 526.5) scale(0.945 1)">B…2</text><text transform="translate(1197.5 526.5) scale(0.939 1)">G…e</text><text transform="translate(1263.5 526.5) scale(0.969 1)">Inse…Node</text><text transform="translate(1522.5 526.5) scale(0.946 1)">(…)</text><text transform="translate(1595.5 526.5) scale(0.946 1)">Spla…rse<tspan dy="-0.9" dx="0.5">_</tspan></text><text transform="translate(797.5 556.5) scale(0.941 1)">R…</text><text transform="translate(849.5 556.5) scale(0.935 1)">R…e</text><text transform="translate(929.5 556.5) scale(0.956 1)">se…l</text><text transform="translate(987.5 556.5) scale(0.957 1)">getP…olor</text><text transform="translate(1129.5 556.5) scale(0.945 1)">R…k</text><text transform="translate(1197.5 556.5) scale(0.939 1)">G…e</text><text transform="translate(1263.5 556.5) scale(0.942 1)">G…</text><text transform="translate(1341.5 556.5) scale(0.941 1)">S…<tspan dy="-0.9" dx="0.5">_</tspan></text><text transform="translate(1523.5 556.5) scale(0.956 1)">B…</text><text transform="translate(1595.5 556.5) scale(0.946 1)">Spla…rse<tspan dy="-0.9" dx="0.5">_</tspan></text><text transform="translate(797.5 586.5) scale(0.944 1)">b…t</text><text transform="translate(849.5 586.5) scale(0.974 1)">b…</text><text transform="translate(987.5 586.5) scale(0.935 1)">ray…ce</text><text transform="translate(1128.5 586.5) scale(0.948 1)">(a…s)</text><text transform="translate(1197.5 586.5) scale(0.939 1)">G…e</text><text transform="translate(1263.5 586.5) scale(0.942 1)">G…</text><text transform="translate(1523.5 586.5) scale(0.956 1)">B…</text><text transform="translate(1595.5 586.5) scale(0.946 1)">Spla…rse<tspan dy="-0.9" dx="0.5">_</tspan></text><text transform="translate(797.5 616.5) scale(0.974 1)">b…</text><text transform="translate(1011.5 616.5) scale(0.966 1)">l…t</text><text transform="translate(1129.5 616.5) scale(0.945 1)">B…2</text><text transform="translate(1263.5 616.5) scale(0.942 1)">G…</text><text transform="translate(1595.5 616.5) scale(0.946 1)">Spla…rse<tspan dy="-0.9" dx="0.5">_</tspan></text><text transform="translate(797.5 646.5) scale(0.97 1)">m…</text><text transform="translate(1129.5 646.5) scale(0.954 1)">re…r</text><text transform="translate(1263.5 646.5) scale(0.942 1)">G…</text><text transform="translate(1595.5 646.5) scale(0.946 1)">Spla…rse<tspan dy="-0.9" dx="0.5">_</tspan></text><text transform="translate(797.5 676.5) scale(0.97 1)">m…</text><text transform="translate(1129.5 676.5) scale(0.954 1)">re…r</text><text transform="translate(1263.5 676.5) scale(0.942 1)">G…</text><text transform="translate(1595.5 676.5) scale(0.946 1)">Spla…rse<tspan dy="-0.9" dx="0.5">_</tspan></text><text transform="translate(1129.5 706.5) scale(0.954 1)">re…r</text><text transform="translate(1263.5 706.5) scale(0.942 1)">G…</text><text transform="translate(1595.5 706.5) scale(0.946 1)">Spla…rse<tspan dy="-0.9" dx="0.5">_</tspan></text><text transform="translate(1129.5 736.5) scale(0.954 1)">re…r</text><text transform="translate(1594.5 736.5) scale(0.963 1)">(ano…ous)</text><text transform="translate(1129.5 766.5) scale(0.954 1)">re…r</text><text transform="translate(1595.5 766.5) scale(0.96 1)">push</text><text transform="translate(1129.5 796.5) scale(0.954 1)">re…r</text><text transform="translate(1129.5 826.5) scale(0.954 1)">re…r</text><text transform="translate(1129.5 856.5) scale(0.954 1)">re…r</text><text transform="translate(1129.5 886.5) scale(0.977 1)">r…</text><text transform="translate(1129.5 916.5) scale(0.977 1)">r…</text><text transform="translate(1129.5 946.5) scale(0.977 1)">r…</text><text transform="translate(1129.5 976.5) scale(0.977 1)">r…</text><text transform="translate(1129.5 1006.5) scale(0.977 1)">r…</text></g><rect x="799" y="373" width="24" height="12" fill="#c4e0f0"/><text x="799" y="383.5" font-family="'Liberation Sans','IPAGothic','Noto Sans CJK JP',sans-serif" font-size="10" fill="#000" textLength="17.5" lengthAdjust="spacingAndGlyphs">押す</text><rect x="1839.6" y="297.6" width="26.4" height="214.8" rx="3.5" fill="#343434" stroke="#505050" stroke-width="1.2" shape-rendering="geometricPrecision"/></svg>
<span class="t" style="left:564.5px;top:286.4px;font-size:9px;line-height:9px;color:#fff;letter-spacing:0.23px;background:#242424;-webkit-text-stroke:.1px;">(a.</span>
<span class="t" style="left:797.0px;top:226.9px;font-size:9px;line-height:9px;color:#fff;letter-spacing:0.10px;-webkit-text-stroke:.1px;">Splay</span>
<span class="t" style="left:832.0px;top:226.9px;font-size:9px;line-height:9px;color:#fff;letter-spacing:0.12px;-webkit-text-stroke:.1px;">Keys</span>
<span class="t" style="left:797.0px;top:241.4px;font-size:9px;line-height:9px;color:#fff;letter-spacing:0.10px;-webkit-text-stroke:.1px;">Splay</span>
<span class="t" style="left:796.0px;top:210.2px;font-size:11px;line-height:11px;color:#fff;font-family:'Liberation Sans','IPAGothic','Noto Sans CJK JP',sans-serif;transform:scaleX(0.762);transform-origin:0 0;-webkit-text-stroke:.25px;">スプレー。。所有する</span>
<span class="t" style="left:733.5px;top:239.7px;font-size:11px;line-height:11px;color:#fff;font-family:'Liberation Sans','IPAGothic','Noto Sans CJK JP',sans-serif;transform:scaleX(0.711);transform-origin:0 0;-webkit-text-stroke:.25px;">メジャー</span>
<span class="t" style="left:796.0px;top:254.7px;font-size:11px;line-height:11px;color:#fff;font-family:'Liberation Sans','IPAGothic','Noto Sans CJK JP',sans-serif;transform:scaleX(0.768);transform-origin:0 0;-webkit-text-stroke:.25px;">スプレー</span>
</main>
<div id="frame" class="abs"></div>
</body>
</html>
